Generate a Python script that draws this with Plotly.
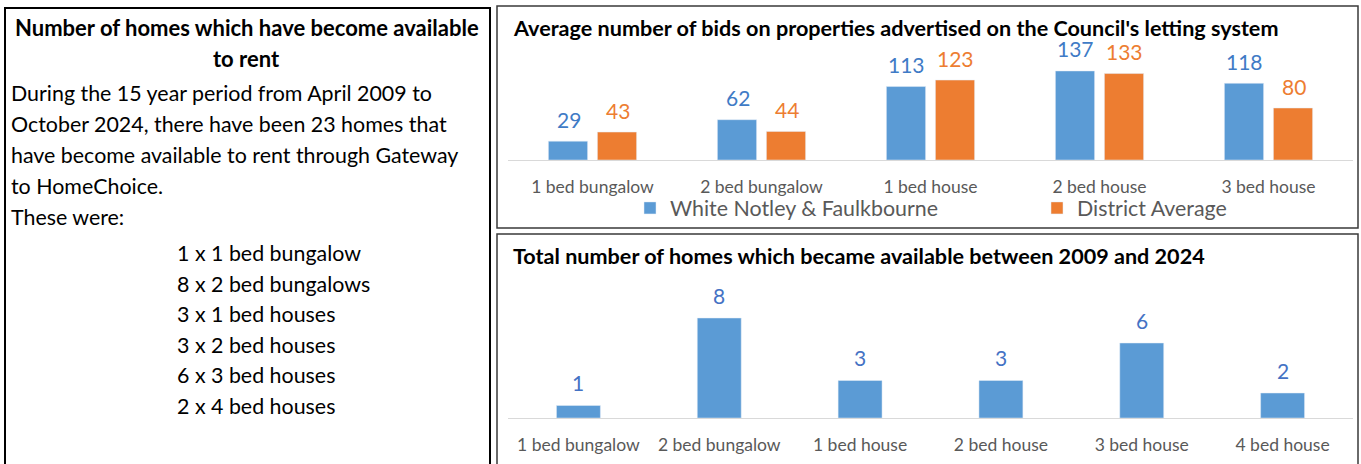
import plotly.graph_objects as go

W, H = 1361, 464

# ---------------- data ----------------
bid_categories = ["1 bed bungalow", "2 bed bungalow", "1 bed house", "2 bed house", "3 bed house"]
bids_local = [29, 62, 113, 137, 118]
bids_district = [43, 44, 123, 133, 80]
series_names = ["White Notley & Faulkbourne", "District Average"]

home_categories = ["1 bed bungalow", "2 bed bungalow", "1 bed house", "2 bed house", "3 bed house", "4 bed house"]
home_counts = [1, 8, 3, 3, 6, 2]

title_top = "Average number of bids on properties advertised on the Council's letting system"
title_bottom = "Total number of homes which became available between 2009 and 2024"

left_title = ["Number of homes which have become available", "to rent"]
left_body = [
    "During the 15 year period from April 2009 to",
    "October 2024, there have been 23 homes that",
    "have become available to rent through Gateway",
    "to HomeChoice.",
    "These were:",
]
left_list = [
    "1 x 1 bed bungalow",
    "8 x 2 bed bungalows",
    "3 x 1 bed houses",
    "3 x 2 bed houses",
    "6 x 3 bed houses",
    "2 x 4 bed houses",
]

# ---------------- style ----------------
FONT = "Lato"
BLUE = "#5B9BD5"
ORANGE = "#ED7D31"
BLUE_LBL = "#3F7BC6"
BLUE_LBL2 = "#4472C4"
GREY = "#595959"
AXIS = "#D9D9D9"


def px(x):
    return x / W


def py(y):
    return 1 - y / H


fig = go.Figure()

fig.add_trace(go.Bar(x=bid_categories, y=bids_local, name=series_names[0],
                     marker_color=BLUE, xaxis="x", yaxis="y", legend="legend"))
fig.add_trace(go.Bar(x=bid_categories, y=bids_district, name=series_names[1],
                     marker_color=ORANGE, xaxis="x", yaxis="y", legend="legend2"))
fig.add_trace(go.Bar(x=home_categories, y=home_counts, name="Homes", width=0.312,
                     marker_color=BLUE, xaxis="x2", yaxis="y2", showlegend=False))

annotations = []
# value labels (top chart)
for cat, v in zip(bid_categories, bids_local):
    annotations.append(dict(x=cat, y=v, xref="x", yref="y", text=str(v), showarrow=False,
                            xshift=-24, yshift=22, yanchor="middle",
                            font=dict(family=FONT, size=21, color=BLUE_LBL)))
for cat, v in zip(bid_categories, bids_district):
    annotations.append(dict(x=cat, y=v, xref="x", yref="y", text=str(v), showarrow=False,
                            xshift=25, yshift=22, yanchor="middle",
                            font=dict(family=FONT, size=21, color=ORANGE)))
# value labels (bottom chart)
for cat, v in zip(home_categories, home_counts):
    annotations.append(dict(x=cat, y=v, xref="x2", yref="y2", text=str(v), showarrow=False,
                            yshift=23, yanchor="middle",
                            font=dict(family=FONT, size=21, color=BLUE_LBL2)))

# chart titles
annotations.append(dict(x=px(511), y=py(28), xref="paper", yref="paper", text="<b>%s</b>" % title_top,
                        showarrow=False, xanchor="left", yanchor="middle",
                        font=dict(family=FONT, size=21.6, color="#000000")))
annotations.append(dict(x=px(511), y=py(256), xref="paper", yref="paper", text="<b>%s</b>" % title_bottom,
                        showarrow=False, xanchor="left", yanchor="middle",
                        font=dict(family=FONT, size=21.6, color="#000000")))

# left panel text
for i, t in enumerate(left_title):
    annotations.append(dict(x=px(247), y=py(28 + 30 * i), xref="paper", yref="paper", text="<b>%s</b>" % t,
                            showarrow=False, xanchor="center", yanchor="middle",
                            font=dict(family=FONT, size=22, color="#000000")))
for i, t in enumerate(left_body):
    annotations.append(dict(x=px(9), y=py(93 + 31 * i), xref="paper", yref="paper", text=t,
                            showarrow=False, xanchor="left", yanchor="middle",
                            font=dict(family=FONT, size=21.4, color="#000000")))
for i, t in enumerate(left_list):
    annotations.append(dict(x=px(175), y=py(253 + 30.6 * i), xref="paper", yref="paper", text=t,
                            showarrow=False, xanchor="left", yanchor="middle",
                            font=dict(family=FONT, size=21.4, color="#000000")))

shapes = [
    dict(type="rect", xref="paper", yref="paper", x0=px(5), x1=px(490), y0=py(8), y1=py(475),
         line=dict(color="#000000", width=2)),
    dict(type="rect", xref="paper", yref="paper", x0=px(497), x1=px(1358), y0=py(6), y1=py(228),
         line=dict(color="#3A3A3A", width=1.5)),
    dict(type="rect", xref="paper", yref="paper", x0=px(497), x1=px(1358), y0=py(234), y1=py(475),
         line=dict(color="#3A3A3A", width=1.5)),
]

axis_common = dict(showgrid=False, zeroline=False, showline=True, linecolor=AXIS, linewidth=1,
                   ticks="", tickfont=dict(family=FONT, size=17.5, color=GREY), ticklabelstandoff=11,
                   fixedrange=True)
yaxis_common = dict(showgrid=False, zeroline=False, showline=False, showticklabels=False, fixedrange=True)

fig.update_layout(
    width=W, height=H,
    margin=dict(l=0, r=0, t=0, b=0),
    paper_bgcolor="white", plot_bgcolor="white",
    barmode="group", bargap=0.42, bargroupgap=0.2,
    xaxis=dict(domain=[px(508), px(1353)], anchor="y", **axis_common),
    yaxis=dict(domain=[py(160), py(40)], range=[0, 120 / 0.65], anchor="x", **yaxis_common),
    xaxis2=dict(domain=[px(508), px(1353)], anchor="y2", **axis_common),
    yaxis2=dict(domain=[py(418), py(280)], range=[0, 138 / 12.5], anchor="x2", **yaxis_common),
    legend=dict(x=px(630), y=py(208), xanchor="left", yanchor="middle", orientation="h",
                font=dict(family=FONT, size=21.4, color=GREY), bgcolor="rgba(0,0,0,0)"),
    legend2=dict(x=px(1037), y=py(208), xanchor="left", yanchor="middle", orientation="h",
                 font=dict(family=FONT, size=21.4, color=GREY), bgcolor="rgba(0,0,0,0)"),
    annotations=annotations,
    shapes=shapes,
    showlegend=True,
)

fig.write_html("out.html")
